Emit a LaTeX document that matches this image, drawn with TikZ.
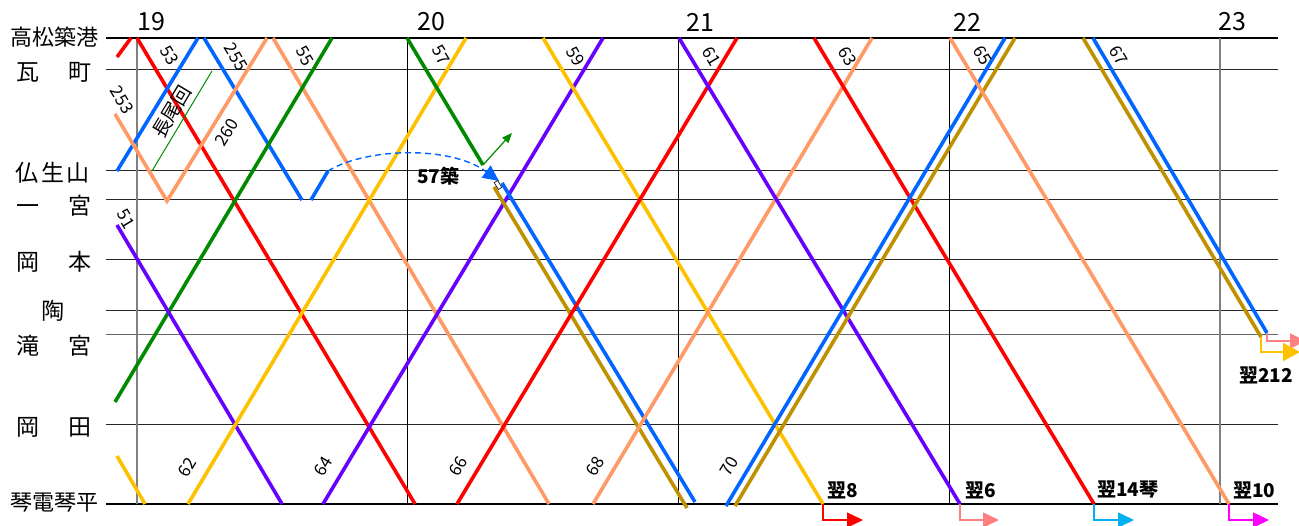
\documentclass[tikz,border=0pt]{standalone}
\usepackage{fontspec}
\setmainfont{Noto Sans CJK JP}
\usetikzlibrary{arrows.meta}
\definecolor{trred}{HTML}{FF0000}
\definecolor{trblue}{HTML}{0066FF}
\definecolor{trsalmon}{HTML}{FF9966}
\definecolor{trgreen}{HTML}{008A00}
\definecolor{tryellow}{HTML}{FFC000}
\definecolor{trpurple}{HTML}{6600FF}
\definecolor{trgold}{HTML}{BF9000}
\definecolor{trpink}{HTML}{FF8080}
\definecolor{trcyan}{HTML}{00B0F0}
\definecolor{trmagenta}{HTML}{FF00FF}
\tikzset{
	train/.style={line width=3.6pt},
	gridline/.style={line width=1pt, color=black!85},
	edgeline/.style={line width=1.8pt, color=black},
	hourline/.style={line width=1pt, color=black},
	hourgray/.style={line width=1.8pt, color=black!50},
	hourlabel/.style={inner sep=0pt, font=\fontsize{25}{25}\selectfont},
	station/.style={inner sep=0pt, font=\fontsize{23}{23}\selectfont},
	trainno/.style={inner sep=0pt, font=\fontsize{17}{17}\selectfont},
	nextday/.style={inner sep=0pt, anchor=west, font=\bfseries\fontsize{19}{19}\selectfont},
	handover/.style={line width=1.5pt, -{Triangle[length=16pt,width=15pt]}}
}

\begin{document}
\begin{tikzpicture}[x=1pt, y=-1pt]
			%%%%% START %%%%%
			\useasboundingbox (0, 0) rectangle (1299, 526);
			
			% station lines
			\draw[edgeline] (106, 38) -- (1278, 38);
			\draw[gridline] (106, 70) -- (1278, 70);
			\draw[gridline] (106, 171) -- (1278, 171);
			\draw[gridline] (106, 200) -- (1278, 200);
			\draw[gridline] (106, 260) -- (1278, 260);
			\draw[gridline] (106, 311) -- (1278, 311);
			\draw[gridline, color=black!60] (106, 335) -- (1278, 335);
			\draw[gridline] (106, 425) -- (1278, 425);
			\draw[edgeline] (106, 504) -- (1278, 504);
			
			% hour lines
			\draw[hourgray] (137, 38) -- (137, 504);
			\draw[hourline] (407, 38) -- (407, 504);
			\draw[hourline] (678, 38) -- (678, 504);
			\draw[hourline] (949, 38) -- (949, 504);
			\draw[hourgray] (1220, 38) -- (1220, 504);
			
			\node[hourlabel] (h19) at (151, 22) {19};
			\node[hourlabel] (h20) at (431, 22) {20};
			\node[hourlabel] (h21) at (700, 22) {21};
			\node[hourlabel] (h22) at (967, 22) {22};
			\node[hourlabel] (h23) at (1232, 22) {23};
			
			\node[station, font=\fontsize{22}{22}\selectfont] (stTakamatsu) at (54, 37) {高松築港};
			\node[station] (stKawaramachi) at (54, 72) {瓦\hspace{29pt}町};
			\node[station] (stBusshozan) at (53, 173) {仏\hspace{2.5pt}生\hspace{2.5pt}山};
			\node[station] (stIchinomiya) at (54, 206) {一\hspace{29pt}宮};
			\node[station] (stOkamoto) at (54, 262) {岡\hspace{29pt}本};
			\node[station] (stSue) at (53, 311) {陶};
			\node[station] (stTakinomiya) at (54, 346) {滝\hspace{29pt}宮};
			\node[station] (stOkada) at (54, 427) {岡\hspace{29pt}田};
			\node[station, font=\fontsize{22}{22}\selectfont] (stKotohira) at (54, 503) {琴電琴平};
			
			% 19 o'clock
			\draw[train, color=trred] (117, 57) -- (131, 38);
			\draw[train, color=trred] (137, 38) -- (415, 504);
			\draw[train, color=trblue] (117, 171) -- (198, 38);
			\draw[train, color=trblue] (204, 38) -- (302, 200);
			\draw[train, color=trblue] (311, 200) -- (328, 171);
			\draw[train, color=trsalmon] (115, 114) -- (167, 201) -- (267, 38);
			\draw[line width=1pt, color=trgreen] (152, 171) -- (212, 71);
			\draw[train, color=trsalmon] (273, 38) -- (549, 504);
			\draw[train, color=trgreen] (115, 402) -- (332, 38);
			\draw[train, color=trpurple] (117, 225) -- (282, 504);
			\draw[train, color=tryellow] (117, 456) -- (145, 504);
			\draw[train, color=tryellow] (188, 504) -- (466, 38);
			\draw[train, color=trpurple] (323, 504) -- (603, 38);
			
			% 20 o'clock
			\draw[train, color=trgreen] (407, 38) -- (483, 165);
			\draw[line width=1.2pt, color=trgreen, -{Triangle[length=10pt,width=8pt]}] (483, 165) -- (512, 133);
			\draw[line width=1.4pt, color=trblue, dash pattern=on 6pt off 4pt, -{Triangle[length=16pt,width=15pt]}] (328, 171) .. controls (365, 148) and (450, 145) .. (499, 181);
			\draw[train, color=trgold] (494, 187) -- (687, 508);
			\draw[train, color=trblue] (502, 183) -- (695, 502);
			\draw[line width=0.6pt, fill=white, rotate around={-59:(498, 185)}] (494, 183) rectangle (502, 187);
			\draw[train, color=tryellow] (543, 38) -- (823, 504);
			\draw[train, color=trred] (457, 504) -- (737, 38);
			\draw[train, color=trsalmon] (593, 504) -- (872, 38);
			
			% 21 o'clock
			\draw[train, color=trpurple] (679, 38) -- (960, 504);
			\draw[train, color=trred] (814, 38) -- (1094, 504);
			\draw[train, color=trgold] (735, 506) -- (1015, 38);
			\draw[train, color=trblue] (726, 506) -- (1005, 38);
			
			% 22 o'clock
			\draw[train, color=trsalmon] (950, 38) -- (1229, 504);
			\draw[train, color=trgold] (1083, 38) -- (1261, 337);
			\draw[train, color=trblue] (1093, 38) -- (1267, 333);
			
			% next day
			\draw[handover, color=trred] (823, 504) -- (823, 520) -- (863, 520);
			\draw[handover, color=trpink] (960, 504) -- (960, 520) -- (999, 520);
			\draw[handover, color=trcyan] (1094, 504) -- (1094, 520) -- (1134, 520);
			\draw[handover, color=trmagenta] (1229, 504) -- (1229, 520) -- (1269, 520);
			\draw[handover, color=trpink] (1267, 333) -- (1267, 341) -- (1306, 341);
			\draw[handover, line width=2pt, color=tryellow, -{Triangle[length=17pt,width=18pt]}] (1261, 337) -- (1261, 352) -- (1300, 352);
			
			\node[nextday] (nx8) at (827, 490) {翌8};
			\node[nextday] (nx6) at (965, 490) {翌6};
			\node[nextday] (nx14) at (1097, 490) {翌14琴};
			\node[nextday] (nx10) at (1233, 490) {翌10};
			\node[nextday] (nx212) at (1239, 375) {翌212};
			\node[nextday] (ret57) at (417, 176) {57築};
			
			% train numbers
			\node[trainno, rotate=-59] (no53) at (170, 55) {53};
			\node[trainno, rotate=-59] (no255) at (236, 57) {255};
			\node[trainno, rotate=-59] (no55) at (305, 56) {55};
			\node[trainno, rotate=-59] (no253) at (122, 100) {253};
			\node[trainno, rotate=59, font=\fontsize{19}{19}\selectfont] (noNagao) at (172, 112) {長尾回};
			\node[trainno, rotate=59] (no260) at (227, 132) {260};
			\node[trainno, rotate=-59] (no51) at (126, 219) {51};
			\node[trainno, rotate=59] (no62) at (187, 467) {62};
			\node[trainno, rotate=59] (no64) at (323, 466) {64};
			\node[trainno, rotate=-59] (no57) at (441, 55) {57};
			\node[trainno, rotate=-59] (no59) at (576, 56) {59};
			\node[trainno, rotate=-59] (no61) at (712, 56) {61};
			\node[trainno, rotate=-59] (no63) at (848, 56) {63};
			\node[trainno, rotate=-59] (no65) at (983, 55) {65};
			\node[trainno, rotate=-59] (no67) at (1119, 55) {67};
			\node[trainno, rotate=59] (no66) at (458, 466) {66};
			\node[trainno, rotate=59] (no68) at (595, 466) {68};
			\node[trainno, rotate=59] (no70) at (729, 466) {70};
			
			%%%%% END %%%%%
\end{tikzpicture}
\end{document}
